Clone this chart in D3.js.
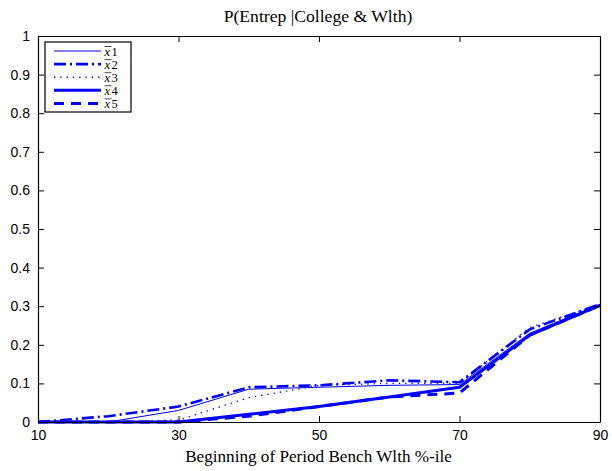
<!DOCTYPE html>
<html><head><meta charset="utf-8">
<script src="https://cdn.jsdelivr.net/npm/d3@7"></script>
<style>body{margin:0;background:#fff}</style>
</head><body>
<svg id="c" width="612" height="471"></svg>
<script>
const xs = [10, 20, 30, 40, 50, 60, 70, 80, 90];
const x1 = [0, 0, 0.03, 0.085, 0.09, 0.095, 0.097, 0.23, 0.305];
const x2 = [0, 0.015, 0.04, 0.09, 0.095, 0.108, 0.103, 0.24, 0.305];
const x3 = [0, 0, 0.005, 0.063, 0.095, 0.1, 0.1, 0.245, 0.305];
const x4 = [0, 0, 0, 0.02, 0.04, 0.065, 0.09, 0.225, 0.302];
const x5 = [0, 0, 0, 0.015, 0.04, 0.065, 0.075, 0.225, 0.302];
const seriesNames = ["1", "2", "3", "4", "5"];
const xTicks = [10, 30, 50, 70, 90];
const yTicks = [0, 0.1, 0.2, 0.3, 0.4, 0.5, 0.6, 0.7, 0.8, 0.9, 1];
const title = "P(Entrep |College & Wlth)";
const xLabel = "Beginning of Period Bench Wlth %-ile";

const styles = [
  {w: 1, dash: null},
  {w: 2.6, dash: "12,4,2,4"},
  {w: 1.4, dash: "1.3,5"},
  {w: 3, dash: null},
  {w: 3, dash: "10,7"}
];
const data = [x1, x2, x3, x4, x5];

const L = 38, R = 600, T = 36, B = 422;
const svg = d3.select("#c");
const x = d3.scaleLinear().domain([10, 90]).range([L, R]);
const y = d3.scaleLinear().domain([0, 1]).range([B, T]);

const serif = "'Liberation Serif','DejaVu Serif',serif";
const sans = "'Liberation Sans',Arial,sans-serif";

// data lines
const line = d3.line().x((d, i) => x(xs[i])).y(d => y(d));
const g = svg.append("g");
data.forEach((s, k) => {
  g.append("path").datum(s).attr("d", line)
    .attr("fill", "none").attr("stroke", "#0000ff")
    .attr("stroke-width", styles[k].w)
    .attr("stroke-dasharray", styles[k].dash)
    .attr("stroke-linejoin", "round");
});

// axes
const tl = 6;
const ax = svg.append("g").attr("transform", `translate(0,${B})`)
  .call(d3.axisBottom(x).tickValues(xTicks).tickSizeInner(-tl).tickSizeOuter(0).tickPadding(8));
const axT = svg.append("g").attr("transform", `translate(0,${T})`)
  .call(d3.axisTop(x).tickValues(xTicks).tickSizeInner(-tl).tickSizeOuter(0).tickFormat(""));
const ay = svg.append("g").attr("transform", `translate(${L},0)`)
  .call(d3.axisLeft(y).tickValues(yTicks).tickSizeInner(-tl).tickSizeOuter(0).tickPadding(8).tickFormat(d => d === 0 || d === 1 ? d3.format("d")(d) : d3.format(".1f")(d)));
const ayR = svg.append("g").attr("transform", `translate(${R},0)`)
  .call(d3.axisRight(y).tickValues(yTicks).tickSizeInner(-tl).tickSizeOuter(0).tickFormat(""));
[ax, axT, ay, ayR].forEach(a => {
  a.selectAll(".domain").attr("stroke", "#000").attr("stroke-width", 1.2);
  a.selectAll(".tick line").attr("stroke", "#000");
  a.selectAll("text").attr("font-family", sans).attr("font-size", 14).attr("fill", "#000");
});
ax.selectAll("text").attr("dy", "0.71em");

// title and x label (fit to reference widths)
function fit(t, w) {
  const cur = t.node().getComputedTextLength();
  const fs = +t.attr("font-size");
  t.attr("font-size", fs * w / cur);
}
const tt = svg.append("text").attr("x", 318).attr("y", 22).attr("text-anchor", "middle")
  .attr("font-family", serif).attr("font-size", 15).text(title);
fit(tt, 189);
const xl = svg.append("text").attr("x", 318.5).attr("y", 462).attr("text-anchor", "middle")
  .attr("font-family", serif).attr("font-size", 15).text(xLabel);
fit(xl, 267);

// legend
const lg = svg.append("g");
lg.append("rect").attr("x", 45).attr("y", 42).attr("width", 86).attr("height", 70)
  .attr("fill", "#fff").attr("stroke", "#000").attr("stroke-width", 1.2);
seriesNames.forEach((n, k) => {
  const yy = 51 + k * 13.1;
  lg.append("line").attr("x1", 54).attr("x2", 101).attr("y1", yy).attr("y2", yy)
    .attr("stroke", "#0000ff").attr("stroke-width", styles[k].w)
    .attr("stroke-dasharray", styles[k].dash);
  const t = lg.append("text").attr("x", 104.5).attr("y", yy + 5)
    .attr("font-family", serif).attr("font-size", 12.5).attr("letter-spacing", 1.5);
  t.append("tspan").attr("font-style", "italic").text("x");
  t.append("tspan").text(n);
  lg.append("line").attr("x1", 104.5).attr("x2", 111.5).attr("y1", yy - 4.5).attr("y2", yy - 4.5)
    .attr("stroke", "#000").attr("stroke-width", 0.7);
});
</script>
</body></html>
